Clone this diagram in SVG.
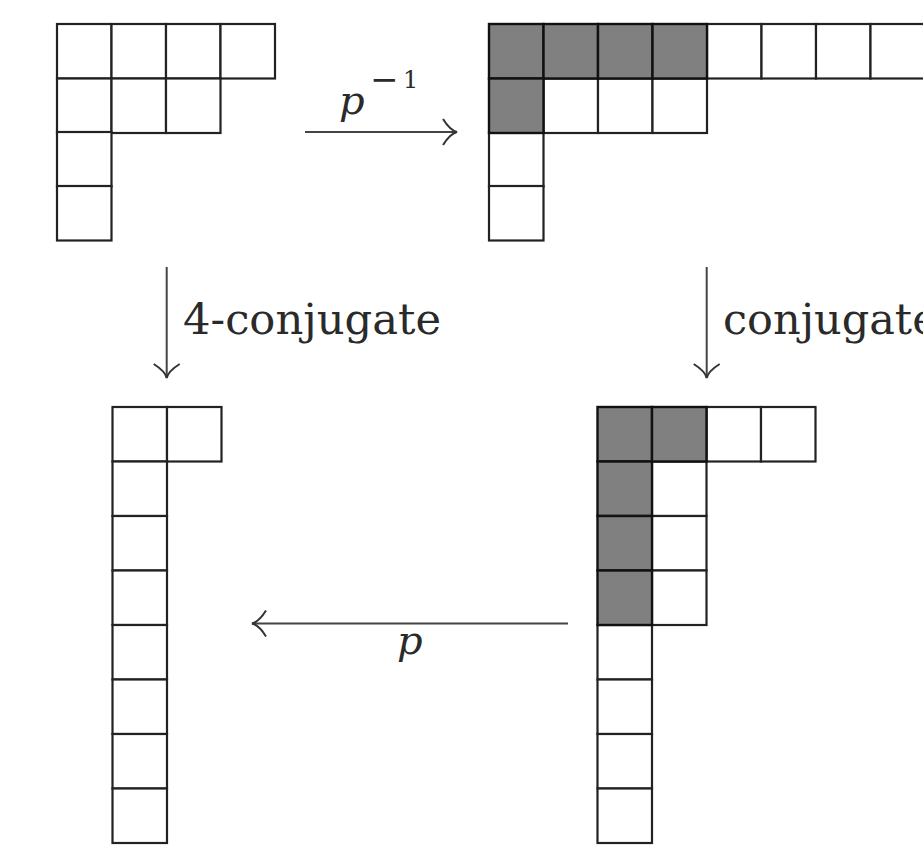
<svg xmlns="http://www.w3.org/2000/svg" xmlns:xlink="http://www.w3.org/1999/xlink" width="923" height="845" viewBox="0 0 923 845">
<style>
.w{fill:#fff;stroke:#222;stroke-width:2.2}
.g{fill:#808080;stroke:#111;stroke-width:2.4}
.arr{fill:none;stroke:#444;stroke-width:2}
.lbl{font-family:"DejaVu Serif","Liberation Serif",serif;fill:#2a2a2a}
.it{font-style:italic}
</style>
<defs>
<rect id="c" width="54.5" height="54.5"/>
<marker id="to" markerUnits="userSpaceOnUse" markerWidth="40" markerHeight="40" viewBox="-20 -20 40 40" refX="0" refY="0" orient="auto">
<path d="M -14 -13 C -9 -5 -4 -1 0 0 C -4 1 -9 5 -14 13" fill="none" stroke="#333" stroke-width="2"/>
</marker>
</defs>
<rect width="923" height="845" fill="#fff"/>
<g id="tl">
<use xlink:href="#c" x="57" y="24" class="w"/>
<use xlink:href="#c" x="111.5" y="24" class="w"/>
<use xlink:href="#c" x="166" y="24" class="w"/>
<use xlink:href="#c" x="220.5" y="24" class="w"/>
<use xlink:href="#c" x="57" y="78.5" class="w"/>
<use xlink:href="#c" x="111.5" y="78.5" class="w"/>
<use xlink:href="#c" x="166" y="78.5" class="w"/>
<use xlink:href="#c" x="57" y="132" class="w"/>
<use xlink:href="#c" x="57" y="186" class="w"/>
</g>
<g id="tr">
<use xlink:href="#c" x="707" y="24" class="w"/>
<use xlink:href="#c" x="761.5" y="24" class="w"/>
<use xlink:href="#c" x="816" y="24" class="w"/>
<use xlink:href="#c" x="870.5" y="24" class="w"/>
<use xlink:href="#c" x="543.5" y="78.5" class="w"/>
<use xlink:href="#c" x="598" y="78.5" class="w"/>
<use xlink:href="#c" x="652.5" y="78.5" class="w"/>
<use xlink:href="#c" x="489" y="132" class="w"/>
<use xlink:href="#c" x="489" y="186" class="w"/>
<use xlink:href="#c" x="489" y="24" class="g"/>
<use xlink:href="#c" x="543.5" y="24" class="g"/>
<use xlink:href="#c" x="598" y="24" class="g"/>
<use xlink:href="#c" x="652.5" y="24" class="g"/>
<use xlink:href="#c" x="489" y="78.5" class="g"/>
</g>
<g id="bl">
<use xlink:href="#c" x="112.5" y="407" class="w"/>
<use xlink:href="#c" x="167" y="407" class="w"/>
<use xlink:href="#c" x="112.5" y="461.5" class="w"/>
<use xlink:href="#c" x="112.5" y="516" class="w"/>
<use xlink:href="#c" x="112.5" y="570.5" class="w"/>
<use xlink:href="#c" x="112.5" y="625" class="w"/>
<use xlink:href="#c" x="112.5" y="679.5" class="w"/>
<use xlink:href="#c" x="112.5" y="734" class="w"/>
<use xlink:href="#c" x="112.5" y="788.5" class="w"/>
</g>
<g id="br">
<use xlink:href="#c" x="706.5" y="407" class="w"/>
<use xlink:href="#c" x="761" y="407" class="w"/>
<use xlink:href="#c" x="652" y="461.5" class="w"/>
<use xlink:href="#c" x="652" y="516" class="w"/>
<use xlink:href="#c" x="652" y="570.5" class="w"/>
<use xlink:href="#c" x="597.5" y="625" class="w"/>
<use xlink:href="#c" x="597.5" y="679.5" class="w"/>
<use xlink:href="#c" x="597.5" y="734" class="w"/>
<use xlink:href="#c" x="597.5" y="788.5" class="w"/>
<use xlink:href="#c" x="597.5" y="407" class="g"/>
<use xlink:href="#c" x="652" y="407" class="g"/>
<use xlink:href="#c" x="597.5" y="461.5" class="g"/>
<use xlink:href="#c" x="597.5" y="516" class="g"/>
<use xlink:href="#c" x="597.5" y="570.5" class="g"/>
</g>
<g id="connectors">
<line class="arr" x1="305" y1="132" x2="457" y2="132" marker-end="url(#to)"/>
<line class="arr" x1="166.7" y1="267" x2="166.7" y2="378" marker-end="url(#to)"/>
<line class="arr" x1="706.7" y1="267" x2="706.7" y2="378" marker-end="url(#to)"/>
<line class="arr" x1="568" y1="623.5" x2="252" y2="623.5" marker-end="url(#to)"/>
</g>
<g id="labels">
<text class="lbl it" x="339" y="114" font-size="40">p</text>
<text class="lbl" x="370" y="91" font-size="34">−</text>
<text class="lbl" x="403" y="88" font-size="24">1</text>
<text class="lbl" x="183" y="334" font-size="43" textLength="258" lengthAdjust="spacingAndGlyphs">4-conjugate</text>
<text class="lbl" x="723" y="334" font-size="43">conjugate</text>
<text class="lbl it" x="397" y="654" font-size="40">p</text>
</g>
</svg>
